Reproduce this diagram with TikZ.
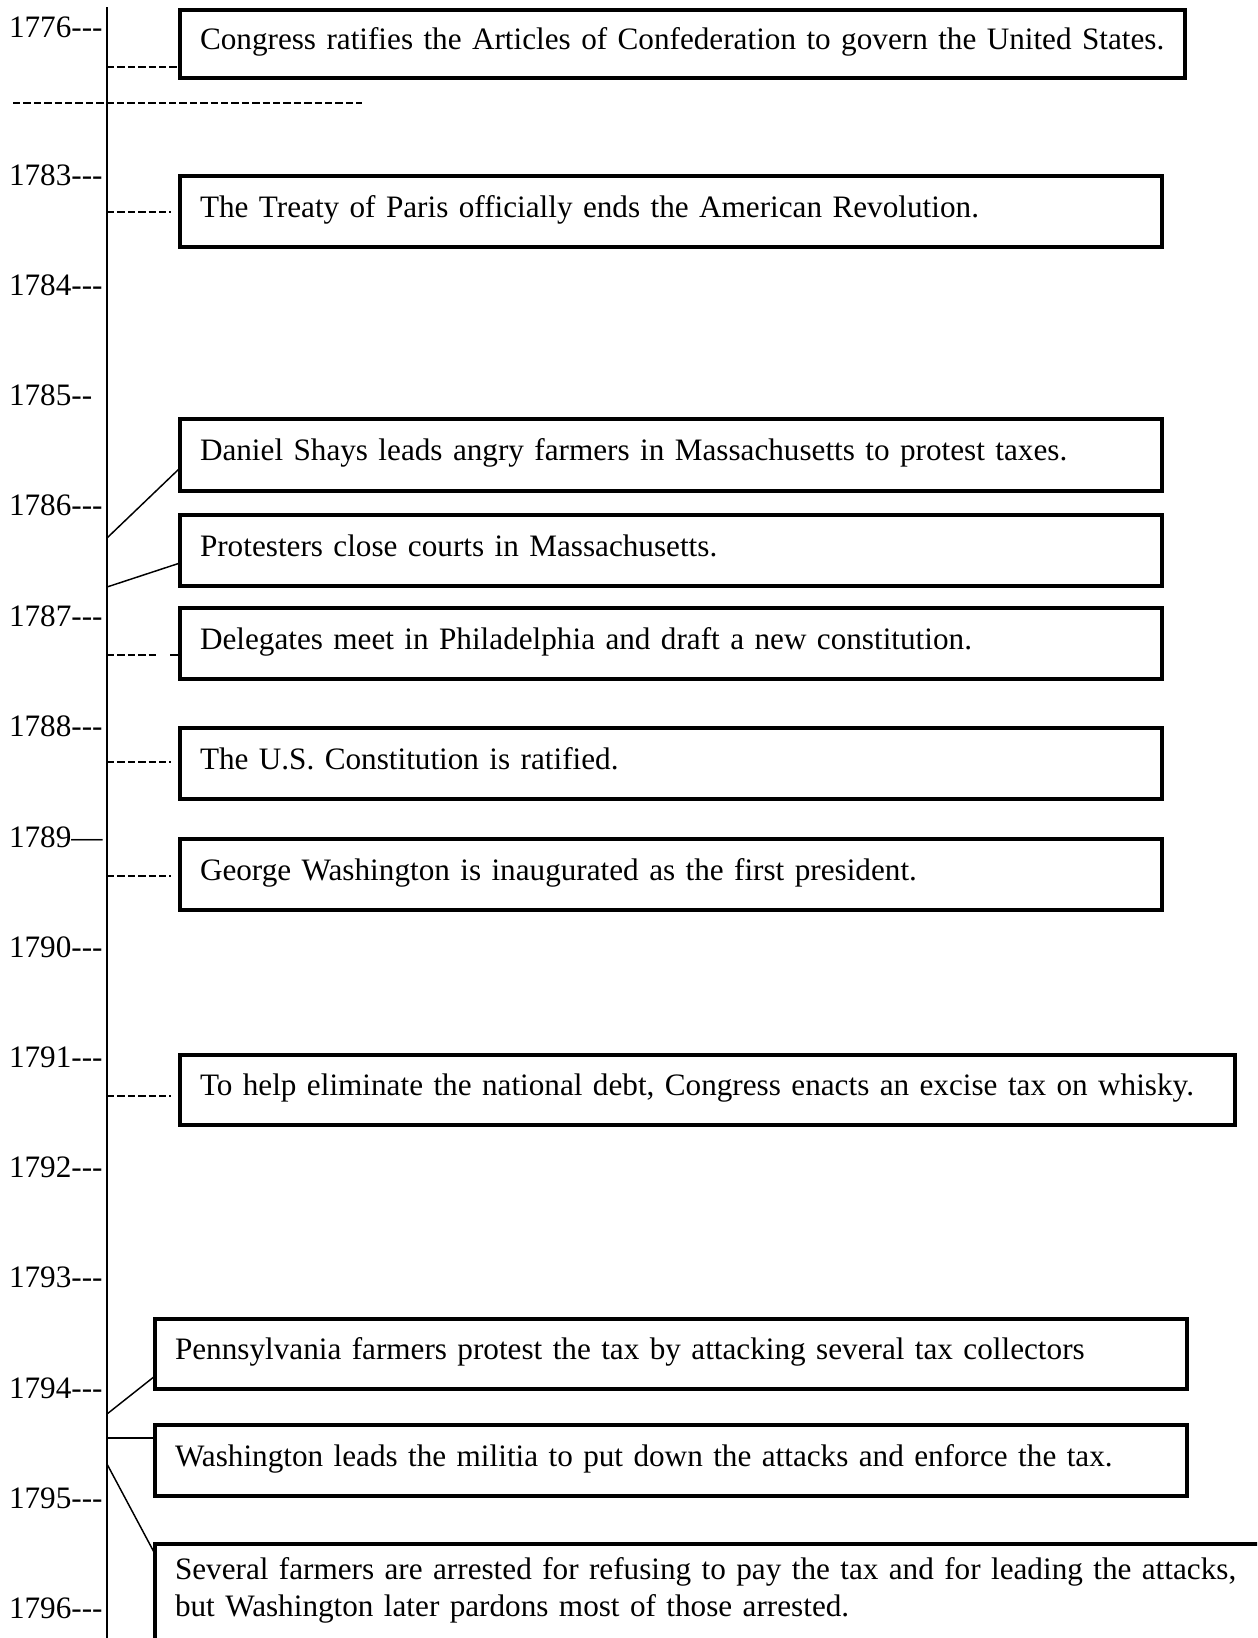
\documentclass[tikz,border=0pt]{standalone}
\usepackage{fontspec}
\setmainfont{Liberation Serif}[Ligatures=TeXOff]
\usetikzlibrary{calc}
\newcommand\evfont{\fontsize{23.4pt}{27.75pt}\selectfont\frenchspacing}
\tikzset{
  evbox/.style={draw, line width=3pt, rectangle, outer sep=0pt, inner xsep=15pt,
    anchor=north west, text height=0.98em, text depth=0.15em, font=\evfont},
  evopen/.style={draw, line width=3pt, rectangle, outer sep=0pt, inner xsep=15pt,
    inner ysep=16.6pt, anchor=north west, text height=0.98em,
    text depth=150pt, font=\evfont, text width=825pt},
  yr/.style={anchor=base west, inner sep=0pt, outer sep=0pt, font=\evfont},
  tl/.style={line width=1.5pt},
  conn/.style={line width=1.1pt},
  dashline/.style={line width=1.3pt, dash pattern=on 5.6pt off 2.2pt},
}
\begin{document}
\begin{tikzpicture}[x=0.75pt, y=-0.75pt]
\useasboundingbox (0,0) rectangle (1257,1638);
\clip (0,0) rectangle (1257,1638);

% timeline
\coordinate (ttop) at (107,7);
\coordinate (tbot) at (107,1645);
\draw[tl] (ttop) -- (tbot);

% year labels
\node[yr] (y1776) at (9,37) {1776---};
\node[yr] (y1783) at (9,185) {1783---};
\node[yr] (y1784) at (9,295) {1784---};
\node[yr] (y1785) at (9,405) {1785--};
\node[yr] (y1786) at (9,515) {1786---};
\node[yr] (y1787) at (9,626) {1787---};
\node[yr] (y1788) at (9,736) {1788---};
\node[yr] (y1789) at (9,847) {1789—};
\node[yr] (y1790) at (9,957) {1790---};
\node[yr] (y1791) at (9,1067) {1791---};
\node[yr] (y1792) at (9,1177) {1792---};
\node[yr] (y1793) at (9,1287) {1793---};
\node[yr] (y1794) at (9,1398) {1794---};
\node[yr] (y1795) at (9,1508) {1795---};
\node[yr] (y1796) at (9,1618) {1796---};

% long dashed line
\coordinate (ld1) at (13,103);
\coordinate (ld2) at (362,103);
\draw[dashline] (ld1) -- (ld2);

% event boxes
\node[evbox, text width=723.75pt, minimum height=51pt] (b1) at (180,10)
  {\mbox{Congress ratifies the Articles of Confederation to govern the United States.}};
\node[evbox, text width=706.5pt, minimum height=53.25pt] (b2) at (180,176)
  {\mbox{The Treaty of Paris officially ends the American Revolution.}};
\node[evbox, text width=706.5pt, minimum height=54pt] (b3) at (180,419)
  {\mbox{Daniel Shays leads angry farmers in Massachusetts to protest taxes.}};
\node[evbox, text width=706.5pt, minimum height=53.25pt] (b4) at (180,515)
  {\mbox{Protesters close courts in Massachusetts.}};
\node[evbox, text width=706.5pt, minimum height=53.25pt] (b5) at (180,608)
  {\mbox{Delegates meet in Philadelphia and draft a new constitution.}};
\node[evbox, text width=706.5pt, minimum height=53.25pt] (b6) at (180,728)
  {\mbox{The U.S. Constitution is ratified.}};
\node[evbox, text width=706.5pt, minimum height=53.25pt] (b7) at (180,839)
  {\mbox{George Washington is inaugurated as the first president.}};
\node[evbox, text width=761.25pt, minimum height=52.5pt] (b8) at (180,1055)
  {\mbox{To help eliminate the national debt, Congress enacts an excise tax on whisky.}};
\node[evbox, text width=744pt, minimum height=52.5pt] (b9) at (155,1319)
  {\mbox{Pennsylvania farmers protest the tax by attacking several tax collectors}};
\node[evbox, text width=744pt, minimum height=53.25pt] (b10) at (155,1425)
  {\mbox{Washington leads the militia to put down the attacks and enforce the tax.}};
\node[evopen] (b11) at (155,1544)
  {\mbox{Several farmers are arrested for refusing to pay the tax and for leading the attacks,}\\
   \mbox{but Washington later pardons most of those arrested.}};

% connector start points on the timeline
\coordinate (c1) at (107,67);
\coordinate (c2) at (107,212);
\coordinate (c3) at (107,538);
\coordinate (c4) at (107,587);
\coordinate (c5) at (107,655);
\coordinate (c6) at (107,762);
\coordinate (c7) at (107,876);
\coordinate (c8) at (107,1096);
\coordinate (c9) at (107,1414);
\coordinate (c10) at (107,1438);
\coordinate (c11) at (107,1464);

% connectors
\draw[dashline] (c1) -- (c1 -| b1.west);
\draw[dashline, shorten >=6.75pt] (c2) -- (c2 -| b2.west);
\draw[conn] (c3) -- ($(b3.west)+(0,13)$);
\draw[conn] (c4) -- ($(b4.west)+(0,12.5)$);
\draw[line width=1.3pt, dash pattern=on 5.6pt off 2.2pt on 5.6pt off 2.2pt on 5.6pt off 2.2pt on 5.6pt off 2.2pt on 5.6pt off 10.5pt on 5.6pt off 10pt]
  (c5) -- (c5 -| b5.west);
\draw[dashline, shorten >=6.75pt] (c6) -- (c6 -| b6.west);
\draw[dashline, shorten >=6.75pt] (c7) -- (c7 -| b7.west);
\draw[dashline, shorten >=6.75pt] (c8) -- (c8 -| b8.west);
\draw[conn] (c9) -- ($(b9.west)+(0,22)$);
\draw[conn] (c10) -- (c10 -| b10.west);
\draw[conn] (c11) -- ($(b11.north west)+(0,10)$);
\end{tikzpicture}
\end{document}
